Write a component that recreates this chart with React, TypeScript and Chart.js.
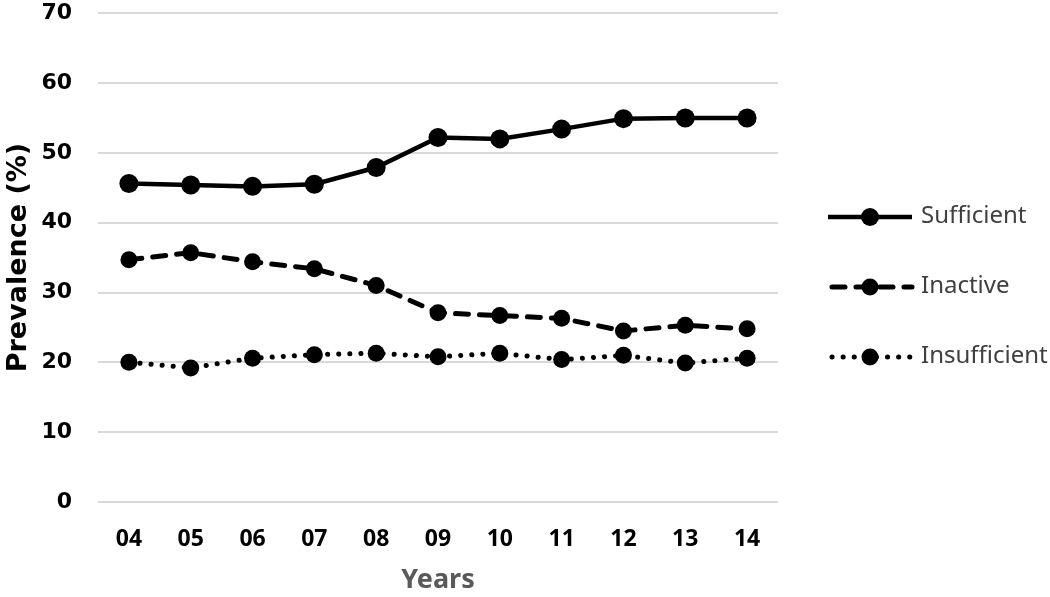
import React, { useEffect, useRef } from "react";
import { Chart, registerables } from "chart.js";

Chart.register(...registerables);

const years = ["04", "05", "06", "07", "08", "09", "10", "11", "12", "13", "14"];
const sufficient = [45.6, 45.4, 45.2, 45.5, 47.9, 52.2, 52.0, 53.4, 54.9, 55.0, 55.0];
const inactive = [34.7, 35.7, 34.4, 33.4, 31.0, 27.1, 26.7, 26.3, 24.5, 25.3, 24.8];
const insufficient = [20.0, 19.2, 20.6, 21.1, 21.3, 20.8, 21.3, 20.4, 21.0, 19.9, 20.6];
const yTicks = [0, 10, 20, 30, 40, 50, 60, 70];
const seriesNames = ["Sufficient", "Inactive", "Insufficient"];

const dashes: number[][] = [[], [13, 11], [0.1, 11]];

const legendPlugin = {
  id: "customLegend",
  afterDraw(chart: any) {
    const ctx = chart.ctx;
    const x0 = 828;
    const x1 = 912;
    const ys = [217, 287, 357];
    chart.data.datasets.forEach((ds: any, i: number) => {
      const y = ys[i];
      ctx.save();
      ctx.strokeStyle = "#000";
      ctx.lineWidth = i === 0 ? 4.5 : 5;
      ctx.lineCap = i === 0 ? "butt" : "round";
      ctx.setLineDash(dashes[i]);
      if (i > 0) ctx.lineDashOffset = -2;
      ctx.beginPath();
      ctx.moveTo(x0 + (i === 0 ? 0 : 2), y);
      ctx.lineTo(x1, y);
      ctx.stroke();
      ctx.setLineDash([]);
      ctx.fillStyle = "#000";
      ctx.beginPath();
      ctx.arc((x0 + x1) / 2, y, i === 0 ? 9 : 8.5, 0, Math.PI * 2);
      ctx.fill();
      ctx.fillStyle = "#404040";
      ctx.font = "24px 'Noto Sans'";
      ctx.textBaseline = "middle";
      ctx.textAlign = "left";
      ctx.fillText(ds.label, 921, y - 1);
      ctx.restore();
    });
  },
};

export default function App() {
  const ref = useRef<HTMLCanvasElement | null>(null);
  useEffect(() => {
    if (!ref.current) return;
    const series = [sufficient, inactive, insufficient];
    const chart = new Chart(ref.current, {
      type: "line",
      data: {
        labels: years,
        datasets: series.map((d, i) => ({
          label: seriesNames[i],
          data: d,
          borderColor: "#000",
          backgroundColor: "#000",
          borderWidth: i === 0 ? 4.5 : 5,
          borderDash: dashes[i],
          borderCapStyle: i === 0 ? "butt" : "round",
          pointRadius: i === 0 ? 9.5 : 8.5,
          pointBorderWidth: 0,
          pointBackgroundColor: "#000",
          tension: 0,
          fill: false,
        })) as any,
      },
      plugins: [legendPlugin],
      options: {
        animation: false,
        responsive: true,
        maintainAspectRatio: false,
        layout: { padding: { left: 0, right: 272, top: 0, bottom: 0 } },
        plugins: {
          legend: { display: false },
          tooltip: { enabled: false },
        },
        scales: {
          x: {
            offset: true,
            afterFit: (axis: any) => {
              axis.height = 95;
            },
            grid: { display: false, drawTicks: true, tickLength: 24, tickColor: "rgba(0,0,0,0)" },
            border: { display: false },
            ticks: {
              color: "#000",
              padding: 0,
              font: { family: "'Noto Sans'", size: 23, weight: "bold" },
            },
            title: {
              display: true,
              text: "Years",
              color: "#595959",
              font: { family: "'Noto Sans'", size: 27, weight: "bold" },
              padding: { top: 11, bottom: 0 },
            },
          },
          y: {
            min: 0,
            max: 70,
            afterBuildTicks: (axis: any) => {
              axis.ticks = yTicks.map((v) => ({ value: v }));
            },
            afterFit: (axis: any) => {
              axis.width = 98;
            },
            grid: { color: "#d9d9d9", lineWidth: 2, drawTicks: true, tickLength: 26, tickColor: "rgba(0,0,0,0)" },
            border: { display: false },
            ticks: {
              color: "#000",
              padding: 0,
              font: { family: "'DejaVu Sans'", size: 22, weight: "bold" },
            },
            title: {
              display: true,
              text: "Prevalence (%)",
              color: "#000",
              font: { family: "'DejaVu Sans'", size: 27, weight: "bold" },
              padding: { top: 3, bottom: 8 },
            },
          },
        },
      },
    });
    return () => chart.destroy();
  }, []);
  return (
    <div style={{ position: "absolute", left: 0, top: 0, width: 1050, height: 597, background: "#fff" }}>
      <canvas ref={ref} />
    </div>
  );
}
